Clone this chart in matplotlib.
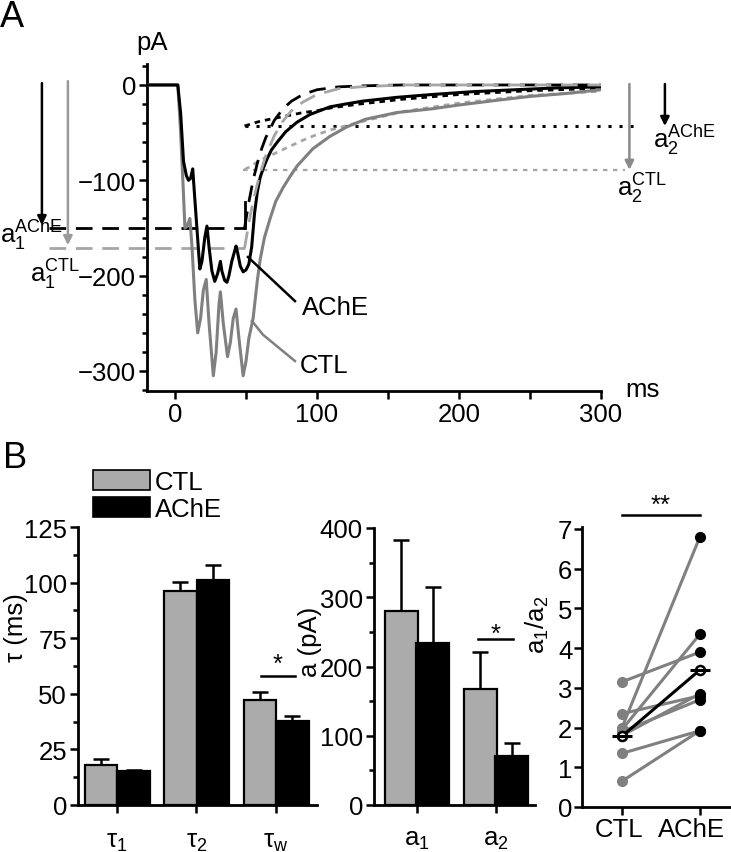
import matplotlib
matplotlib.use('Agg')
import numpy as np
import matplotlib.pyplot as plt
from matplotlib.patches import Rectangle
from matplotlib.ticker import MultipleLocator
from matplotlib.transforms import ScaledTranslation

plt.rcParams['font.family'] = ['Liberation Sans', 'DejaVu Sans']
plt.rcParams['mathtext.fontset'] = 'custom'
plt.rcParams['mathtext.rm'] = 'Liberation Sans'
plt.rcParams['mathtext.it'] = 'Liberation Sans:italic'
plt.rcParams['font.size'] = 18.5

## panel A traces (ms, pA)
t_ache = [-20, 2, 4, 6, 8, 9.5, 11, 12.5, 14, 17.5, 19, 21, 22.5, 24, 26, 28, 30, 32, 33,
          35, 36.6, 38, 40, 43, 44, 46, 48, 50, 52, 54, 56, 58, 60, 62, 65, 68, 72, 78,
          86, 95, 109, 120, 132, 156, 181, 210, 240, 270, 300]
i_ache = [0, 0, -30, -80, -95, -100, -98, -88, -120, -193, -185, -160, -148, -170, -195, -206, -198, -185, -195,
          -205, -207, -200, -185, -169, -175, -190, -196, -194, -188, -170, -135, -112, -97, -88, -77, -68, -60, -49,
          -39, -31, -23, -20, -17, -13, -10, -7, -5, -3, -2]

t_ctl = [-20, 2, 4, 6, 7, 8.5, 10.5, 12, 14, 16, 18, 20, 22, 24, 27, 29, 31, 32, 34, 37, 39,
         41, 43, 45, 48, 50, 52, 55, 58, 60, 63, 67, 71, 76, 81, 86, 97, 109, 121, 134,
         156, 181, 200, 227, 250, 275, 300]
i_ctl = [0, 0, -50, -115, -150, -148, -140, -170, -225, -260, -245, -215, -204, -250, -305, -280, -230, -217, -250, -285, -270,
         -245, -235, -265, -305, -290, -266, -245, -205, -183, -160, -140, -122, -108, -96, -85, -67, -54, -44, -36,
         -29, -25, -21, -16, -12, -9, -5]

## fitted components
t_fast = [49, 52, 55, 58, 61, 64, 70, 76, 82, 90, 100, 115, 130, 160, 300]
fast_ache = [-150, -123, -100, -82, -67, -55, -37, -25, -17, -10, -5, -2, -1, 0, 0]
fast_ctl = [-171, -145, -122, -104, -88, -74, -53, -38, -27, -18, -10, -4, -2, 0, 0]
t_slow = [49, 60, 70, 80, 90, 100, 110, 130, 160, 200, 250, 300]
slow_ache = [-43, -38, -35, -32, -29, -27, -24, -20, -15, -10, -6, -3.5]
slow_ctl = [-89, -79, -72, -65, -58, -52, -47, -39, -28, -19, -11, -6.5]

a1_ache, a1_ctl = -150, -171
a2_ache, a2_ctl = -43, -89

## panel B
tau_labels = [r'$\mathregular{τ_1}$', r'$\mathregular{τ_2}$', r'$\mathregular{τ_w}$']
tau_ctl = [18, 96.2, 47.2]
tau_ctl_err = [2.7, 4.1, 3.6]
tau_ache = [15.3, 101.2, 37.8]
tau_ache_err = [0.5, 6.8, 2.2]

amp_labels = [r'$\mathregular{a_1}$', r'$\mathregular{a_2}$']
amp_ctl = [280, 168]
amp_ctl_err = [103, 53]
amp_ache = [234, 71]
amp_ache_err = [81, 19]

ratio_ctl = [3.15, 2.35, 2.0, 1.95, 1.9, 1.8, 1.35, 0.65]
ratio_ache = [3.9, 2.8, 6.8, 4.35, 2.7, 2.85, 1.92, 1.92]
ratio_mean = [1.78, 3.45]

gray_trace = '#808080'
gray_fit = '#a6a6a6'
gray_bar = '#ababab'

fig = plt.figure(figsize=(7.31, 8.53), dpi=100)

def px_axes(l, t, r, b):
    return fig.add_axes([l/731, 1-b/853, (r-l)/731, (b-t)/853])

def style(ax):
    for s in ['top', 'right']:
        ax.spines[s].set_visible(False)
    for s in ['left', 'bottom']:
        ax.spines[s].set_linewidth(2)
    ax.tick_params(which='major', length=6, width=1.8, pad=2)
    ax.tick_params(which='minor', length=3.5, width=1.8)

## ---------------- panel A
axA = px_axes(147, 65, 601, 392)
style(axA)
axA.set_xlim(-19.7, 300)
axA.set_ylim(-321, 22)
axA.xaxis.set_major_locator(MultipleLocator(100))
axA.xaxis.set_minor_locator(MultipleLocator(50))
axA.tick_params(axis='x', which='minor', length=6)
axA.set_yticks([0, -100, -200, -300])
axA.yaxis.set_minor_locator(MultipleLocator(20))

axA.plot(t_ctl, i_ctl, color=gray_trace, lw=2.2, zorder=3)
axA.plot(t_ache, i_ache, color='k', lw=2.2, zorder=4)

# a1 levels and fast fits
axA.plot([-89, t_fast[0]], [a1_ache, a1_ache], color='k', lw=2, dashes=(6, 3.5), clip_on=False)
axA.plot([-89, t_fast[0]], [a1_ctl, a1_ctl], color=gray_fit, lw=2, dashes=(6, 3.5), clip_on=False)
axA.plot([t_fast[0], t_fast[0]], [a1_ache, fast_ache[1]], color='k', lw=2)
axA.plot(t_fast, fast_ache, color='k', lw=2, dashes=(6, 3.5), zorder=5)
axA.plot(t_fast, fast_ctl, color=gray_fit, lw=2, dashes=(6, 3.5), zorder=5)

# a2 levels and slow fits
axA.plot([49, 327], [a2_ache, a2_ache], color='k', lw=2.2, dashes=(1, 2.6), clip_on=False)
axA.plot([48, 317], [a2_ctl, a2_ctl], color=gray_fit, lw=1.6, dashes=(2, 2.5), clip_on=False)
axA.plot(t_slow, slow_ache, color='k', lw=2, dashes=(2, 1.8), zorder=2)
axA.plot(t_slow, slow_ctl, color=gray_fit, lw=2, dashes=(2, 1.8), zorder=2)

def arrow(x, y0, y1, c):
    axA.annotate('', xy=(x, y1), xytext=(x, y0), annotation_clip=False,
                 arrowprops=dict(arrowstyle='-|>', color=c, lw=1.8, mutation_scale=13,
                                 shrinkA=0, shrinkB=0))

arrow(-93.7, 2, a1_ache + 3, 'k')
arrow(-75.4, 4, a1_ctl + 3, '#9a9a9a')
arrow(345, 1, a2_ache, 'k')
arrow(320, 1, a2_ctl, '#8a8a8a')

axA.text(-123, -165, r'$\mathregular{a_1^{AChE}}$', fontsize=18.5, clip_on=False)
axA.text(-102, -206, r'$\mathregular{a_1^{CTL}}$', fontsize=18.5, clip_on=False)
axA.text(336.6, -65, r'$\mathregular{a_2^{AChE}}$', fontsize=18.5, clip_on=False)
axA.text(311, -116, r'$\mathregular{a_2^{CTL}}$', fontsize=18.5, clip_on=False)

axA.plot([51.4, 84.5], [-180.5, -226.7], color='k', lw=1.8, zorder=6)
axA.plot([54.2, 62, 84.5], [-247.6, -262, -289.6], color=gray_trace, lw=1.8, zorder=6)
axA.text(89.4, -240, 'AChE')
axA.text(88, -301, 'CTL')
axA.text(-27, 38, 'pA', clip_on=False)
axA.text(317, -326, 'ms', clip_on=False)

fig.text(0.0, 1-27/853, 'A', fontsize=26, va='baseline')
fig.text(3/731, 1-468/853, 'B', fontsize=26, va='baseline')

## ---------------- panel B1: time constants
axB1 = px_axes(78, 528, 317, 806)
style(axB1)
x = np.arange(len(tau_labels))
w = 0.41
axB1.bar(x - 0.2, tau_ctl, w, color=gray_bar, edgecolor='k', lw=1.6, zorder=2)
axB1.bar(x + 0.21, tau_ache, w, color='k', edgecolor='k', lw=1.6, zorder=2)
axB1.errorbar(x - 0.2, tau_ctl, yerr=[np.zeros(3), tau_ctl_err], fmt='none', ecolor='k',
              elinewidth=1.8, capsize=6, capthick=1.8, zorder=1)
axB1.errorbar(x + 0.21, tau_ache, yerr=[np.zeros(3), tau_ache_err], fmt='none', ecolor='k',
              elinewidth=1.8, capsize=6, capthick=1.8, zorder=1)
axB1.set_xlim(-0.49, 2.52)
axB1.set_ylim(0, 125)
axB1.yaxis.set_major_locator(MultipleLocator(25))
axB1.yaxis.set_minor_locator(MultipleLocator(12.5))
axB1.set_xticks(x)
axB1.set_xticklabels(tau_labels)
axB1.tick_params(axis='x', pad=11)
axB1.plot([1.82, 2.24], [58, 58], color='k', lw=1.8, clip_on=False)
axB1.text(2.03, 60.3, '*', ha='center', va='baseline')
fig.text(16/731, 1-628/853, 'τ (ms)', rotation=90, ha='center', va='center')

# legend
fig.add_artist(Rectangle((93/731, 1-491/853), 57/731, 20/853, transform=fig.transFigure,
                         facecolor=gray_bar, edgecolor='k', lw=1.2))
fig.add_artist(Rectangle((93/731, 1-518/853), 57/731, 20/853, transform=fig.transFigure,
                         facecolor='k', edgecolor='k', lw=1.2))
fig.text(155/731, 1-490/853, 'CTL', va='baseline')
fig.text(155/731, 1-517/853, 'AChE', va='baseline')

## ---------------- panel B2: amplitudes
axB2 = px_axes(374, 529, 535, 806)
style(axB2)
x2 = np.arange(len(amp_labels))
w2 = 0.42
axB2.bar(x2 - 0.2, amp_ctl, w2, color=gray_bar, edgecolor='k', lw=1.6, zorder=2)
axB2.bar(x2 + 0.2, amp_ache, w2, color='k', edgecolor='k', lw=1.6, zorder=2)
axB2.errorbar(x2 - 0.2, amp_ctl, yerr=[np.zeros(2), amp_ctl_err], fmt='none', ecolor='k',
              elinewidth=1.8, capsize=6, capthick=1.8, zorder=1)
axB2.errorbar(x2 + 0.2, amp_ache, yerr=[np.zeros(2), amp_ache_err], fmt='none', ecolor='k',
              elinewidth=1.8, capsize=6, capthick=1.8, zorder=1)
axB2.set_xlim(-0.544, 1.494)
axB2.set_ylim(0, 400)
axB2.yaxis.set_major_locator(MultipleLocator(100))
axB2.yaxis.set_minor_locator(MultipleLocator(50))
axB2.set_xticks(x2)
axB2.set_xticklabels(amp_labels)
axB2.tick_params(axis='x', pad=9.5)
axB2.plot([0.77, 1.22], [240, 240], color='k', lw=1.8, clip_on=False)
axB2.text(1.0, 237, '*', ha='center', va='baseline')
fig.text(310/731, 1-642/853, 'a (pA)', rotation=90, ha='center', va='center')

## ---------------- panel B3: a1/a2 ratio
axB3 = px_axes(582, 528, 731, 808)
style(axB3)
for c, a in zip(ratio_ctl, ratio_ache):
    axB3.plot([0, 1], [c, a], color=gray_trace, lw=2.2, zorder=2)
axB3.plot(np.zeros(len(ratio_ctl)), ratio_ctl, 'o', color=gray_trace, ms=7, zorder=3)
axB3.plot(np.ones(len(ratio_ache)), ratio_ache, 'o', color='k', ms=7, zorder=3)
axB3.plot([0, 1], ratio_mean, color='k', lw=2.2, zorder=4)
axB3.plot([0, 1], ratio_mean, 'o', mfc='white', mec='k', mew=1.8, ms=6.5, zorder=5)
axB3.plot([0, 1], ratio_mean, '_', color='k', ms=15, mew=2.2, zorder=5)
axB3.set_xlim(-0.513, 1.4)
axB3.set_ylim(0, 7.05)
axB3.yaxis.set_major_locator(MultipleLocator(1))
axB3.set_xticks([0, 1])
axB3.set_xticklabels(['CTL', 'AChE'])
axB3.tick_params(axis='x', pad=1)
axB3.tick_params(axis='y', pad=1)
lbls = axB3.get_xticklabels()
lbls[0].set_transform(lbls[0].get_transform() + ScaledTranslation(-0.03, 0, fig.dpi_scale_trans))
lbls[1].set_transform(lbls[1].get_transform() + ScaledTranslation(-0.08, 0, fig.dpi_scale_trans))
axB3.plot([0, 1], [7.36, 7.36], color='k', lw=1.8, clip_on=False)
axB3.text(0.5, 7.43, '**', ha='center', va='baseline')
fig.text(537/731, 1-625/853, r'$\mathregular{a_1/a_2}$', rotation=90, ha='center', va='center')

fig.savefig('out.png', dpi=100)
